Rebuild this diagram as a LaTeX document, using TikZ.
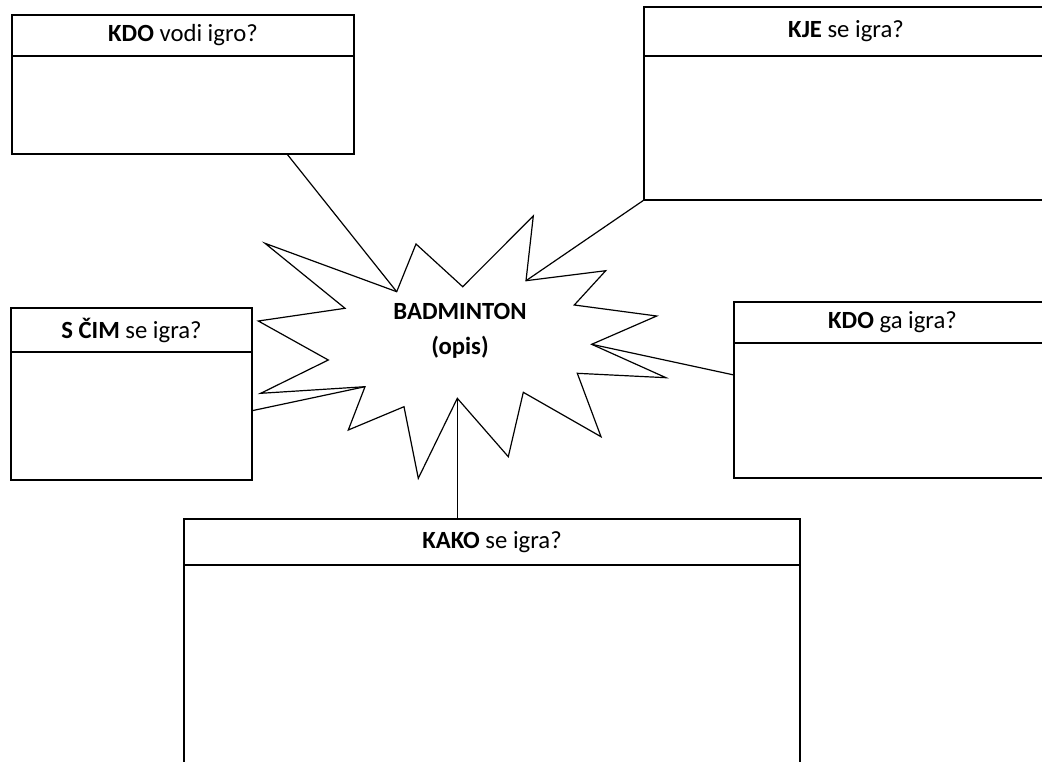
\documentclass[tikz,border=0pt]{standalone}
\usepackage{fontspec}
\setmainfont{Carlito}
\begin{document}
\begin{tikzpicture}[x=1pt,y=-1pt,line width=1.2pt,line join=miter,
  box/.style={draw,rectangle,anchor=north west,inner sep=0pt,outer sep=0pt},
  headtext/.style={font=\fontsize{24.7}{29}\selectfont,inner sep=0pt},
  link/.style={draw,line width=1.2pt}]
\useasboundingbox (0,0) rectangle (1042,761);
\clip (0,0) rectangle (1042,761);
% boxes
\node[box,minimum width=342,minimum height=139] (b1) at (12,15) {};
\draw (12,56) -- (354,56);
\node[headtext] (h1) at (183,35.5) {\textbf{KDO} vodi igro?};
\node[box,minimum width=404,minimum height=193] (b2) at (644,7) {};
\draw (644,56) -- (1048,56);
\node[headtext] (h2) at (846,31.5) {\textbf{KJE} se igra?};
\node[box,minimum width=241,minimum height=172] (b3) at (11,308) {};
\draw (11,352) -- (252,352);
\node[headtext] (h3) at (131.5,330) {\textbf{S ČIM} se igra?};
\node[box,minimum width=317,minimum height=176] (b4) at (734,302) {};
\draw (734,343) -- (1051,343);
\node[headtext] (h4) at (892.5,322.5) {\textbf{KDO} ga igra?};
\node[box,minimum width=616,minimum height=281] (b5) at (184,519) {};
\draw (184,565) -- (800,565);
\node[headtext] (h5) at (492,542) {\textbf{KAKO} se igra?};
% star
\coordinate (s1) at (265,243.3);
\coordinate (s2) at (396.7,291.7);
\coordinate (s3) at (416,244);
\coordinate (s4) at (462.7,286.7);
\coordinate (s5) at (533.3,216);
\coordinate (s6) at (526,280.7);
\coordinate (s7) at (605.7,270.7);
\coordinate (s8) at (574.3,305);
\coordinate (s9) at (656.7,316);
\coordinate (s10) at (591.7,344.3);
\coordinate (s11) at (666,377.7);
\coordinate (s12) at (577.3,373.3);
\coordinate (s13) at (601,436.7);
\coordinate (s14) at (523.3,392.3);
\coordinate (s15) at (508.3,456.7);
\coordinate (s16) at (457.3,398.3);
\coordinate (s17) at (418.3,478.3);
\coordinate (s18) at (404,406.7);
\coordinate (s19) at (348.3,430);
\coordinate (s20) at (365,386.7);
\coordinate (s21) at (260.7,393.3);
\coordinate (s22) at (328.3,360);
\coordinate (s23) at (258.3,321);
\coordinate (s24) at (345,308.3);
\draw (s1) -- (s2) -- (s3) -- (s4) -- (s5) -- (s6) -- (s7) -- (s8) -- (s9)
  -- (s10) -- (s11) -- (s12) -- (s13) -- (s14) -- (s15) -- (s16) -- (s17)
  -- (s18) -- (s19) -- (s20) -- (s21) -- (s22) -- (s23) -- (s24) -- cycle;
\node[font=\bfseries\fontsize{24.7}{35}\selectfont,align=center,inner sep=0pt] (star) at (460,331) {BADMINTON\\(opis)};
% connector end points on boxes
\coordinate (c1) at (287,154);
\coordinate (c2) at (644,200);
\coordinate (c3) at (252,410.7);
\coordinate (c4) at (734,375);
\coordinate (c5) at (457.3,519);
\draw[link] (c1) -- (s2);
\draw[link] (c2) -- (s6);
\draw[link] (c3) -- (s20);
\draw[link] (s10) -- (c4);
\draw[link] (s16) -- (c5);
\end{tikzpicture}
\end{document}
